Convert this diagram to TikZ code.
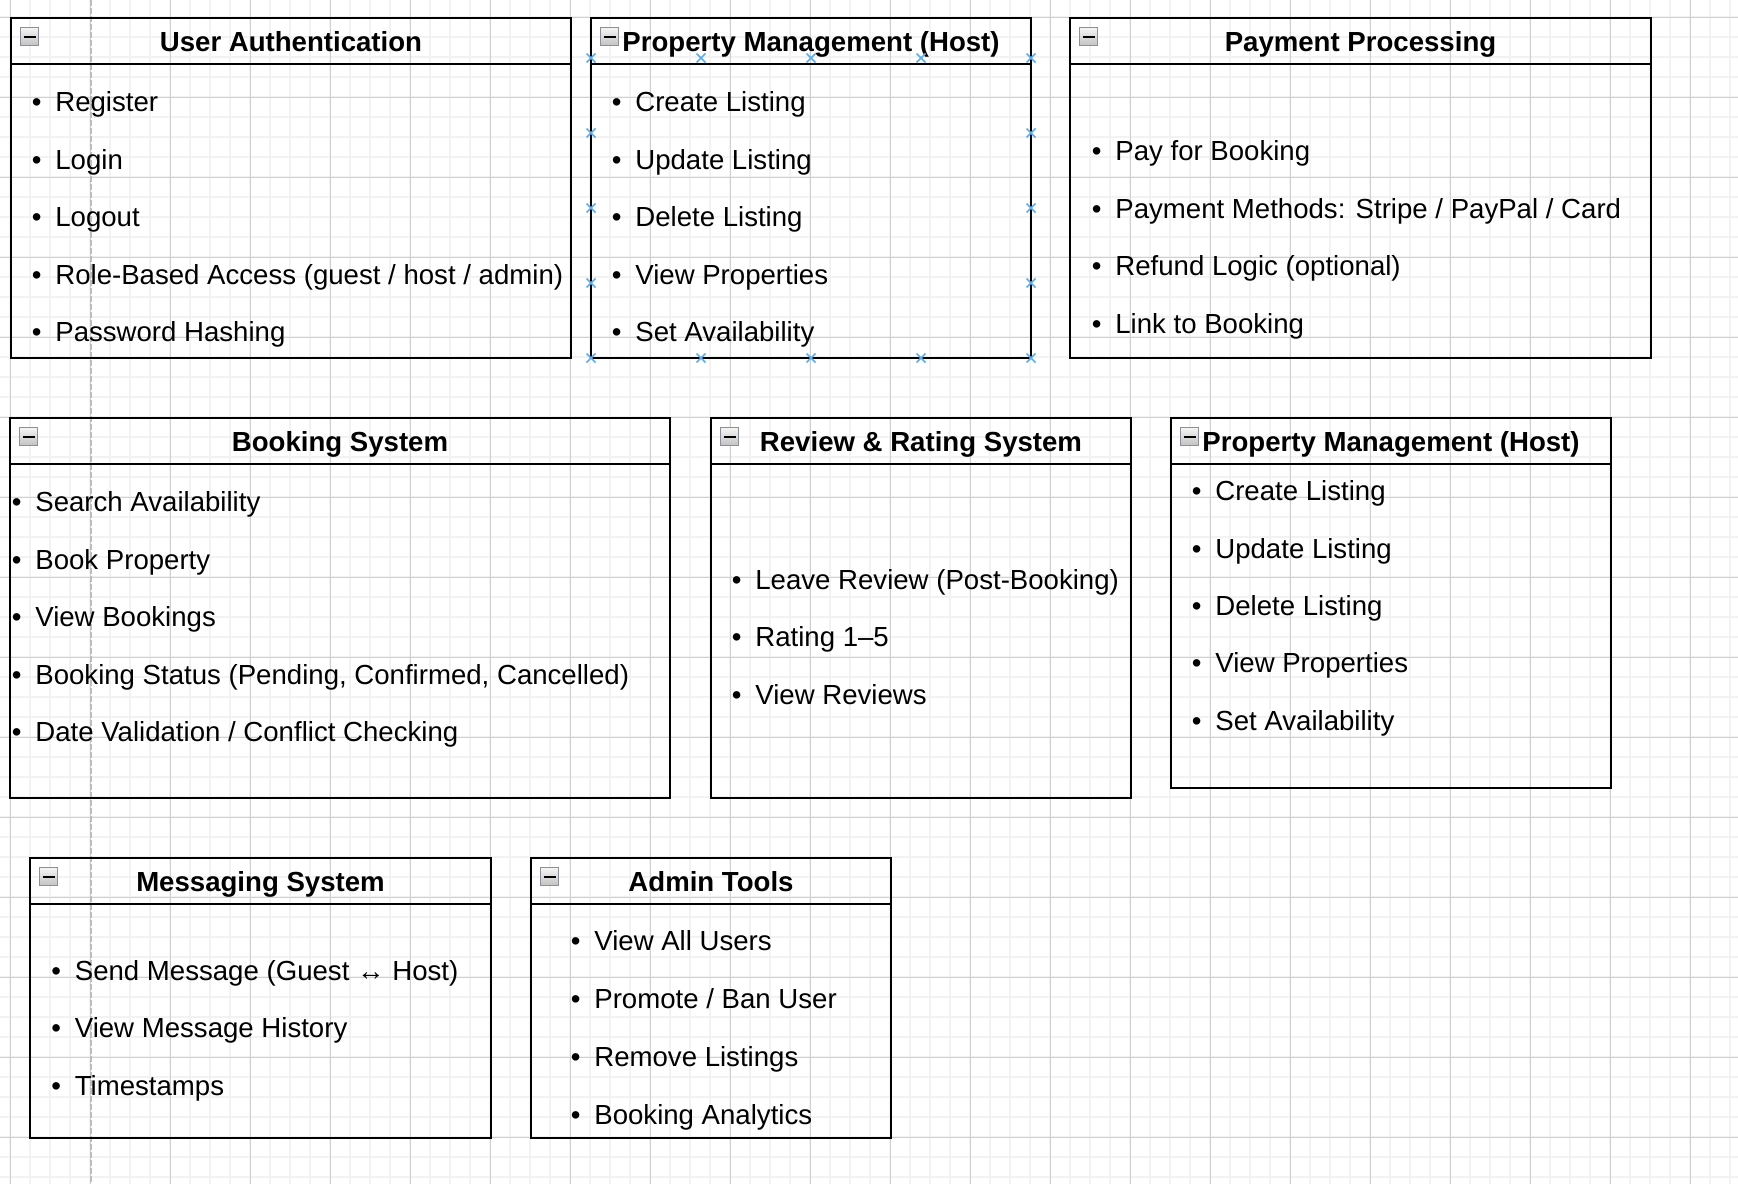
\documentclass[tikz,border=0pt]{standalone}
\usepackage{fontspec}
\setmainfont{Liberation Sans}
\usepackage{tikz}

\definecolor{gridmajor}{HTML}{D0D0D0}
\definecolor{gridminor}{HTML}{F2F2F2}
\definecolor{pagebreak}{HTML}{BDBDBD}
\definecolor{handle}{HTML}{5DADEC}
\definecolor{iconedge}{HTML}{8C909C}

\tikzset{
  module/.style={draw=black, line width=1pt},
  title/.style={anchor=base, inner sep=0pt, font=\fontsize{13.8}{16}\selectfont\bfseries},
  item/.style={anchor=base west, inner sep=0pt, font=\fontsize{13.8}{16}\selectfont},
  handlemark/.style={draw=handle, line width=0.8pt},
}

\begin{document}
\begin{tikzpicture}[x=0.5pt, y=-0.5pt]
\useasboundingbox (0,0) rectangle (1738,1184);
%grid
\foreach \x in {10,30,...,1730}
\draw[gridminor, line width=1pt] (\x,0) -- (\x,1184);
\foreach \y in {17,37,...,1177}
\draw[gridminor, line width=1pt] (0,\y) -- (1738,\y);
\foreach \x in {10,90,...,1690}
\draw[gridmajor, line width=0.5pt] (\x,0) -- (\x,1184);
\foreach \y in {17,97,...,1137}
\draw[gridmajor, line width=0.5pt] (0,\y) -- (1738,\y);
%page break
\draw[pagebreak, line width=0.7pt, dash pattern=on 3pt off 1pt] (91,0) -- (91,1184);

%module frames
\foreach \l/\t/\r/\b in {11/18/571/358, 591/18/1031/358, 1070/18/1651/358, 10/418/670/798, 711/418/1131/798, 1171/418/1611/788, 30/858/491/1138, 531/858/891/1138}
{
\draw[module] (\l,\t) rectangle (\r,\b);
\draw[module] (\l,\t+45.5) -- (\r,\t+45.5);
%collapse icon
\shade[top color=black!4, bottom color=black!24, draw=iconedge, line width=0.6pt] (\l+9.5,\t+9.5) rectangle (\l+27.5,\t+27.5);
\draw[line width=1pt] (\l+12.5,\t+18.5) -- (\l+24.5,\t+18.5);
}

%titles
\node[title] (auth-title) at (291,51) {User Authentication};
\node[title] (host-title) at (811,51) {Property Management (Host)};
\node[title] (pay-title) at (1360.5,51) {Payment Processing};
\node[title] (book-title) at (340,451) {Booking System};
\node[title] (review-title) at (921,451) {Review \& Rating System};
\node[title] (hosttwo-title) at (1391,451) {Property Management (Host)};
\node[title] (msg-title) at (260.5,891) {Messaging System};
\node[title] (admin-title) at (711,891) {Admin Tools};

%items
\foreach \txt [count=\i from 0] in {Register,Login,Logout,Role-Based Access (guest / host / admin),Password Hashing}
\node[item] (auth-\i) at (31.5,111.7+57.5*\i) {\textbullet\hspace{6.9pt}\txt};
\foreach \txt [count=\i from 0] in {Create Listing,Update Listing,Delete Listing,View Properties,Set Availability}
\node[item] (host-\i) at (611.5,111.7+57.5*\i) {\textbullet\hspace{6.9pt}\txt};
\foreach \txt [count=\i from 0] in {Pay for Booking,Payment Methods: Stripe / PayPal / Card,Refund Logic (optional),Link to Booking}
\node[item] (pay-\i) at (1091.5,160.7+57.5*\i) {\textbullet\hspace{6.9pt}\txt};
\foreach \txt [count=\i from 0] in {Search Availability,Book Property,View Bookings,{Booking Status (Pending, Confirmed, Cancelled)},Date Validation / Conflict Checking}
\node[item] (book-\i) at (11.5,511.7+57.5*\i) {\textbullet\hspace{6.9pt}\txt};
\foreach \txt [count=\i from 0] in {Leave Review (Post-Booking),Rating 1–5,View Reviews}
\node[item] (review-\i) at (731.5,589+57.5*\i) {\textbullet\hspace{6.9pt}\txt};
\foreach \txt [count=\i from 0] in {Create Listing,Update Listing,Delete Listing,View Properties,Set Availability}
\node[item] (hosttwo-\i) at (1191.5,500.7+57.4*\i) {\textbullet\hspace{6.9pt}\txt};
\foreach \txt [count=\i from 0] in {Send Message (Guest ↔ Host),View Message History,Timestamps}
\node[item] (msg-\i) at (51,980+57.5*\i) {\textbullet\hspace{6.9pt}\txt};
\foreach \txt [count=\i from 0] in {View All Users,Promote / Ban User,Remove Listings,Booking Analytics}
\node[item] (admin-\i) at (570.5,950+58*\i) {\textbullet\hspace{6.9pt}\txt};

%selection handles
\foreach \x/\y in {591/58,701/58,811/58,921/58,1031/58,591/133,1031/133,591/208,1031/208,591/283,1031/283,591/358,701/358,811/358,921/358,1031/358}
\draw[handlemark] (\x-4.5,\y-4.5) -- (\x+4.5,\y+4.5) (\x-4.5,\y+4.5) -- (\x+4.5,\y-4.5);

\end{tikzpicture}
\end{document}
